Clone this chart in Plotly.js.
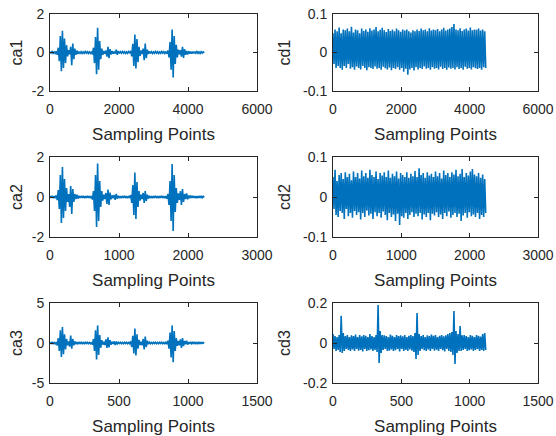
<!DOCTYPE html>
<html><head><meta charset="utf-8">
<script src="https://cdn.plot.ly/plotly-3.0.1.min.js"></script>
<style>html,body{margin:0;padding:0;background:#fff}#chart{width:556px;height:436px}</style>
</head><body><div id="chart"></div>
<script>
// ---- data (downsampled wavelet coefficients, 150 samples each) ----
const sigLength = [4500, 2250, 1125];           // number of coefficients per level
const seriesNames = ['ca1','cd1','ca2','cd2','ca3','cd3'];
const ca1 = [0.04,-0.03,0.05,-0.04,0.03,-0.05,0.06,-0.12,0.25,-0.45,
0.85,-0.97,1.13,-0.8,0.72,-0.55,0.38,-0.2,0.12,-0.1,
0.3,-0.66,0.47,-0.35,0.2,-0.12,0.1,-0.08,0.05,-0.04,
0.04,-0.05,0.03,-0.04,0.05,-0.03,0.04,-0.05,0.03,-0.04,
0.05,-0.1,0.25,-0.55,0.8,-1.13,1.29,-0.9,0.6,-0.35,
0.2,-0.12,0.08,-0.06,0.1,-0.22,0.3,-0.3,0.18,-0.1,
0.08,-0.06,0.05,-0.06,0.15,-0.12,0.08,-0.05,0.04,-0.03,
0.05,-0.03,0.04,-0.05,0.03,-0.04,0.05,-0.03,0.08,-0.2,
0.45,-0.7,0.94,-0.83,0.7,-0.5,0.3,-0.18,0.1,-0.08,
0.2,-0.4,0.47,-0.3,0.15,-0.08,0.06,-0.05,0.04,-0.05,
0.03,-0.04,0.05,-0.03,0.04,-0.05,0.03,-0.04,0.05,-0.03,
0.04,-0.05,0.03,-0.06,0.1,-0.25,0.55,-0.9,1.2,-1.3,
0.85,-0.6,0.4,-0.25,0.15,-0.1,0.12,-0.22,0.3,-0.28,
0.18,-0.12,0.08,-0.1,0.07,-0.06,0.05,-0.06,0.04,-0.05,
0.05,-0.04,0.05,-0.04,0.03,-0.05,0.04,-0.03,0.03,-0.02];
const cd1 = [0.05,-0.03,0.06,-0.04,0.055,-0.035,0.065,-0.04,0.05,-0.045,
0.06,-0.035,0.058,-0.04,0.062,-0.03,0.055,-0.042,0.067,-0.038,
0.052,-0.045,0.06,-0.036,0.058,-0.04,0.05,-0.044,0.062,-0.035,
0.056,-0.04,0.06,-0.046,0.054,-0.038,0.063,-0.04,0.057,-0.043,
0.06,-0.036,0.066,-0.042,0.055,-0.04,0.059,-0.045,0.064,-0.037,
0.058,-0.041,0.053,-0.044,0.061,-0.039,0.056,-0.046,0.06,-0.04,
0.055,-0.043,0.062,-0.038,0.058,-0.045,0.054,-0.04,0.06,-0.05,
0.057,-0.042,0.06,-0.058,0.055,-0.044,0.052,-0.04,0.058,-0.047,
0.055,-0.038,0.06,-0.044,0.056,-0.04,0.062,-0.043,0.058,-0.036,
0.06,-0.042,0.055,-0.04,0.063,-0.045,0.057,-0.038,0.06,-0.042,
0.058,-0.04,0.061,-0.044,0.055,-0.037,0.06,-0.043,0.064,-0.04,
0.057,-0.045,0.06,-0.039,0.062,-0.042,0.066,-0.04,0.074,-0.044,
0.06,-0.038,0.058,-0.043,0.063,-0.04,0.056,-0.045,0.06,-0.037,
0.062,-0.042,0.057,-0.04,0.065,-0.044,0.058,-0.038,0.06,-0.041,
0.059,-0.043,0.062,-0.04,0.057,-0.045,0.06,-0.038,0.055,-0.04];
const ca2 = [0.05,-0.04,0.06,-0.05,0.04,-0.06,0.08,-0.15,0.35,-0.6,
1.1,-1.3,1.5,-1.05,0.9,-0.7,0.45,-0.25,0.15,-0.5,
0.55,-0.85,0.4,-0.25,0.15,-0.1,0.12,-0.08,0.06,-0.05,
0.05,-0.04,0.06,-0.05,0.04,-0.05,0.06,-0.04,0.05,-0.06,
0.05,-0.12,0.3,-0.7,1.1,-1.5,1.68,-1.2,0.8,-0.5,
0.3,-0.18,0.12,-0.1,0.2,-0.35,0.37,-0.4,0.22,-0.12,
0.08,-0.06,0.1,-0.14,0.16,-0.08,0.06,-0.05,0.04,-0.06,
0.05,-0.04,0.06,-0.05,0.04,-0.06,0.05,-0.04,0.1,-0.3,
0.6,-0.9,1.22,-1.1,0.75,-0.5,0.3,-0.18,0.12,-0.1,
0.2,-0.3,0.3,-0.2,0.12,-0.08,0.06,-0.05,0.04,-0.06,
0.05,-0.04,0.06,-0.05,0.04,-0.06,0.05,-0.04,0.06,-0.05,
0.04,-0.06,0.05,-0.08,0.15,-0.4,0.8,-1.2,1.65,-1.7,
1.1,-0.75,0.45,-0.3,0.18,-0.15,0.3,-0.4,0.4,-0.25,
0.15,-0.1,0.18,-0.12,0.08,-0.06,0.07,-0.05,0.06,-0.05,
0.05,-0.06,0.04,-0.05,0.05,-0.04,0.05,-0.04,0.03,-0.03];
const cd2 = [0.05,-0.03,0.068,-0.045,0.04,-0.05,0.055,-0.035,0.06,-0.04,
0.045,-0.055,0.062,-0.03,0.05,-0.048,0.058,-0.04,0.042,-0.052,
0.064,-0.035,0.05,-0.045,0.06,-0.038,0.046,-0.056,0.066,-0.04,
0.052,-0.05,0.06,-0.034,0.048,-0.046,0.068,-0.042,0.055,-0.055,
0.05,-0.038,0.064,-0.048,0.045,-0.04,0.06,-0.052,0.054,-0.036,
0.062,-0.045,0.05,-0.058,0.066,-0.04,0.048,-0.05,0.058,-0.044,
0.052,-0.06,0.064,-0.042,0.046,-0.07,0.06,-0.048,0.055,-0.052,
0.05,-0.04,0.062,-0.055,0.048,-0.045,0.058,-0.038,0.052,-0.05,
0.065,-0.042,0.05,-0.048,0.072,-0.04,0.055,-0.056,0.06,-0.044,
0.048,-0.05,0.062,-0.04,0.054,-0.058,0.058,-0.042,0.05,-0.046,
0.064,-0.038,0.052,-0.05,0.06,-0.044,0.046,-0.055,0.066,-0.04,
0.055,-0.048,0.06,-0.036,0.05,-0.052,0.062,-0.045,0.056,-0.04,
0.068,-0.05,0.052,-0.042,0.058,-0.06,0.07,-0.046,0.05,-0.04,
0.06,-0.052,0.054,-0.038,0.064,-0.048,0.07,-0.044,0.056,-0.05,
0.052,-0.04,0.06,-0.055,0.048,-0.045,0.056,-0.05,0.045,-0.04];
const ca3 = [0.08,-0.06,0.1,-0.08,0.06,-0.1,0.12,-0.3,0.6,-1.0,
1.6,-1.76,2.0,-1.4,1.1,-0.8,0.5,-0.3,0.2,-0.45,
0.94,-0.7,0.5,-0.3,0.2,-0.15,0.12,-0.1,0.08,-0.06,
0.08,-0.1,0.06,-0.08,0.1,-0.06,0.08,-0.1,0.06,-0.08,
0.1,-0.2,0.5,-1.0,1.6,-2.06,2.2,-1.5,1.0,-0.6,
0.35,-0.2,0.15,-0.25,0.45,-0.6,0.7,-0.55,0.35,-0.2,
0.15,-0.12,0.2,-0.25,0.18,-0.1,0.08,-0.06,0.1,-0.08,
0.06,-0.1,0.08,-0.06,0.1,-0.08,0.06,-0.1,0.2,-0.5,
0.9,-1.3,1.8,-1.55,1.1,-0.7,0.4,-0.25,0.15,-0.3,
0.5,-0.8,0.8,-0.5,0.3,-0.15,0.1,-0.08,0.06,-0.1,
0.08,-0.06,0.1,-0.08,0.06,-0.1,0.08,-0.06,0.1,-0.08,
0.06,-0.1,0.08,-0.15,0.3,-0.7,1.3,-1.8,2.2,-2.4,
1.5,-1.0,0.6,-0.35,0.25,-0.3,0.45,-0.6,0.6,-0.4,
0.25,-0.15,0.3,-0.2,0.12,-0.1,0.15,-0.1,0.08,-0.06,
0.1,-0.08,0.06,-0.1,0.08,-0.06,0.08,-0.05,0.06,-0.05];
const cd3 = [0.045,-0.03,0.035,-0.04,0.03,-0.035,0.04,-0.045,0.136,-0.05,
0.05,-0.04,0.035,-0.03,0.04,-0.035,0.03,-0.04,0.038,-0.032,
0.035,-0.04,0.042,-0.03,0.03,-0.038,0.04,-0.035,0.033,-0.042,
0.04,-0.03,0.036,-0.04,0.03,-0.036,0.045,-0.032,0.035,-0.04,
0.03,-0.035,0.04,-0.045,0.19,-0.1,0.06,-0.05,0.04,-0.035,
0.038,-0.03,0.035,-0.04,0.03,-0.038,0.042,-0.032,0.036,-0.04,
0.03,-0.036,0.04,-0.03,0.035,-0.042,0.038,-0.03,0.034,-0.04,
0.04,-0.035,0.03,-0.04,0.036,-0.032,0.04,-0.038,0.035,-0.045,
0.05,-0.08,0.15,-0.06,0.045,-0.04,0.035,-0.03,0.04,-0.036,
0.03,-0.04,0.038,-0.032,0.035,-0.04,0.042,-0.03,0.036,-0.038,
0.04,-0.034,0.03,-0.04,0.036,-0.03,0.04,-0.036,0.034,-0.042,
0.038,-0.03,0.045,-0.04,0.05,-0.045,0.055,-0.06,0.16,-0.105,
0.06,-0.05,0.045,-0.04,0.085,-0.04,0.038,-0.035,0.04,-0.03,
0.035,-0.04,0.03,-0.036,0.04,-0.032,0.036,-0.04,0.03,-0.035,
0.04,-0.03,0.036,-0.04,0.032,-0.035,0.045,-0.04,0.05,-0.035];

// tick labels
const xTicks = [[0,2000,4000,6000],[0,1000,2000,3000],[0,500,1000,1500]];
const xTickText = [['0','2000','4000','6000'],['0','1000','2000','3000'],['0','500','1000','1500']];
const caTicks = [[-2,0,2],[-2,0,2],[-5,0,5]];
const caTickText = [['-2','0','2'],['-2','0','2'],['-5','0','5']];
const cdTicks = [[-0.1,0,0.1],[-0.1,0,0.1],[-0.2,0,0.2]];
const cdTickText = [['-0.1','0','0.1'],['-0.1','0','0.1'],['-0.2','0','0.2']];
const xLabel = 'Sampling Points';

// ---- build ----
const seriesData = [ca1, cd1, ca2, cd2, ca3, cd3];
const FONT = 'Liberation Sans, Arial, Helvetica, sans-serif';
const INK = '#262626';
const colDom = [[50/556, 257/556], [333/556, 538/556]];
const rowDom = [[1-91/436, 1-14/436], [1-237/436, 1-157/436], [1-383/436, 1-303/436]];

const traces = [];
const layout = {
  width: 556, height: 436, margin: {l:0, r:0, t:0, b:0},
  paper_bgcolor: '#fff', plot_bgcolor: '#fff', showlegend: false,
  font: {family: FONT, color: INK, size: 14}
};
for (let k = 0; k < 6; k++) {
  const row = Math.floor(k/2), col = k % 2;
  const vals = seriesData[k];
  const step = sigLength[row] / vals.length;
  const xs = vals.map((_, i) => i * step);
  const ax = k + 1;
  const sfx = ax === 1 ? '' : String(ax);
  traces.push({
    x: xs, y: vals, type: 'scatter', mode: 'lines',
    line: {color: '#0072BD', width: 1.6, simplify: false},
    xaxis: 'x' + sfx, yaxis: 'y' + sfx,
    hoverinfo: 'skip', name: seriesNames[k]
  });
  const xt = xTicks[row];
  const yt = col === 0 ? caTicks[row] : cdTicks[row];
  const ytt = col === 0 ? caTickText[row] : cdTickText[row];
  const common = {
    showgrid: false, zeroline: false, showline: true, mirror: 'ticks',
    linecolor: INK, linewidth: 1, ticks: 'inside', ticklen: 4, tickcolor: INK,
    tickfont: {family: FONT, size: 14, color: INK}
  };
  layout['xaxis' + sfx] = Object.assign({}, common, {
    domain: colDom[col], anchor: 'y' + sfx,
    range: [xt[0], xt[xt.length-1]], tickmode: 'array', tickvals: xt, ticktext: xTickText[row],
    ticklabelstandoff: 5,
    title: {text: xLabel, font: {family: FONT, size: 17, color: INK}, standoff: 12}
  });
  layout['yaxis' + sfx] = Object.assign({}, common, {
    domain: rowDom[row], anchor: 'x' + sfx,
    range: [yt[0], yt[yt.length-1]], tickmode: 'array', tickvals: yt, ticktext: ytt,
    ticklabelstandoff: 2,
    title: {text: seriesNames[k], font: {family: FONT, size: 16, color: INK}, standoff: col === 0 ? 5 : 8}
  });
}
Plotly.newPlot('chart', traces, layout, {staticPlot: true, displayModeBar: false});
</script>
</body></html>
